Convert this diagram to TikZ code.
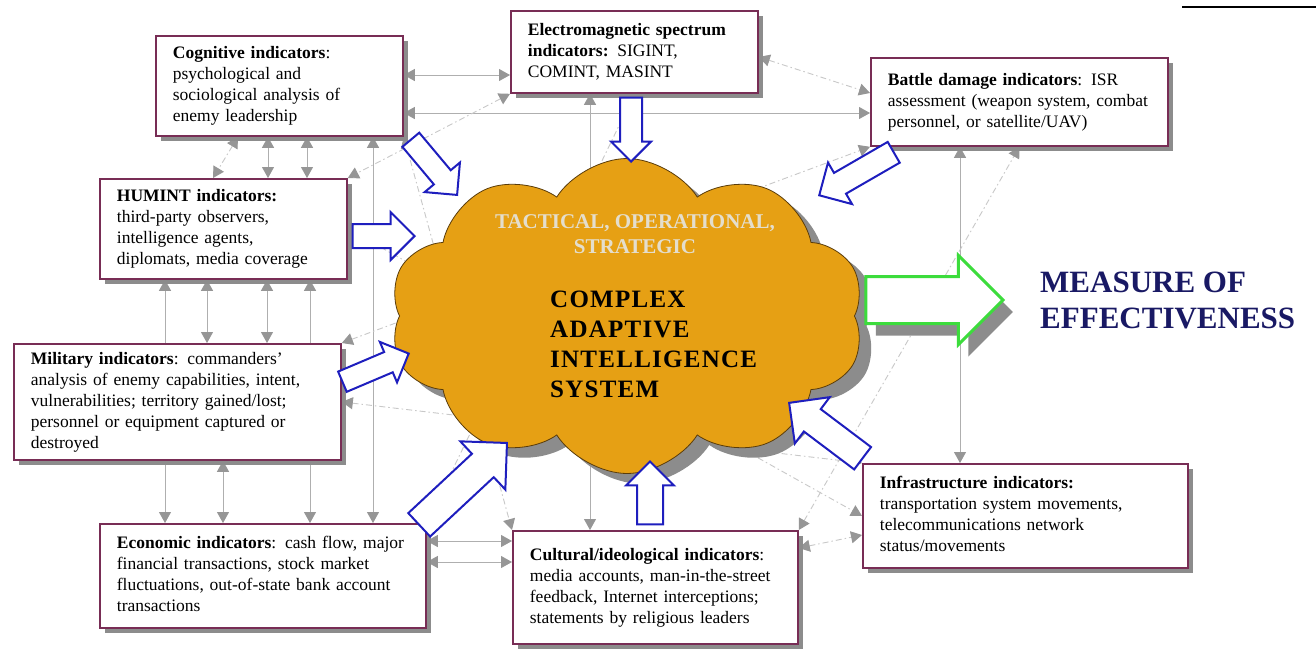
\documentclass[tikz,border=0pt]{standalone}
\usepackage{fontspec}
\setmainfont{Liberation Serif}
\usetikzlibrary{shapes.symbols,shapes.arrows,shadows,arrows.meta}
\pgfdeclarelayer{background}
\pgfsetlayers{background,main}

\definecolor{boxline}{RGB}{120,45,85}
\definecolor{boxshadow}{RGB}{140,140,140}
\definecolor{cloudorange}{RGB}{230,160,20}
\definecolor{cloudline}{RGB}{90,60,10}
\definecolor{arrowblue}{RGB}{30,30,190}
\definecolor{moegreen}{RGB}{60,220,60}
\definecolor{moenavy}{RGB}{25,25,100}
\definecolor{linkgray}{RGB}{175,175,175}
\definecolor{dotgray}{RGB}{200,200,200}
\definecolor{tipgray}{RGB}{150,150,150}
\definecolor{tacgray}{RGB}{228,222,205}

% lines of a box, never broken
\newcommand{\indlines}[1]{\noindent\begin{tabular}{@{}l@{}}#1\end{tabular}}

\tikzset{
  indbox/.style={draw=boxline, line width=1.8pt, fill=white, anchor=north west,
    inner xsep=17pt, inner ysep=0pt, align=left,
    font=\fontsize{17.5}{21}\selectfont,
    drop shadow={shadow xshift=5pt, shadow yshift=-5pt, fill=boxshadow, opacity=1}},
  inarrow/.style={single arrow, draw=arrowblue, line width=2pt, fill=white,
    inner xsep=0pt, anchor=tip, single arrow head indent=0pt},
  link/.style={draw=linkgray, line width=.9pt,
    >={Triangle[length=11pt,width=12pt,color=tipgray]}, <->},
  dotlink/.style={link, draw=dotgray, dash pattern=on 6pt off 3pt on 1.5pt off 3pt}
}

\begin{document}
\begin{tikzpicture}[x=1pt,y=-1pt]
\useasboundingbox (0,0) rectangle (1316,649);

% indicator boxes
\node[indbox, text width=213pt, minimum height=100pt] (cog) at (155,35)
  {\indlines{\textbf{Cognitive indicators}:\\ psychological and\\ sociological analysis of\\ enemy leadership}};
\node[indbox, text width=213pt, minimum height=82pt] (ems) at (510,10)
  {\indlines{\textbf{Electromagnetic spectrum}\\ \textbf{indicators:} SIGINT,\\ COMINT, MASINT}};
\node[indbox, text width=263pt, minimum height=88pt] (bat) at (870,57)
  {\indlines{\textbf{Battle damage indicators}: ISR\\ assessment (weapon system, combat\\ personnel, or satellite/UAV)}};
\node[indbox, text width=213pt, minimum height=100pt] (hum) at (99,178)
  {\indlines{\textbf{HUMINT indicators:}\\ third-party observers,\\ intelligence agents,\\ diplomats, media coverage}};
\node[indbox, text width=293pt, minimum height=116pt] (mil) at (13,343)
  {\indlines{\textbf{Military indicators}: commanders'\\ analysis of enemy capabilities, intent,\\ vulnerabilities; territory gained/lost;\\ personnel or equipment captured or\\ destroyed}};
\node[indbox, text width=292pt, minimum height=104pt] (eco) at (99,523)
  {\indlines{\textbf{Economic indicators}: cash flow, major\\ financial transactions, stock market\\ fluctuations, out-of-state bank account\\ transactions}};
\node[indbox, text width=251pt, minimum height=113pt] (cul) at (512,530)
  {\indlines{\textbf{Cultural/ideological indicators}:\\ media accounts, man-in-the-street\\ feedback, Internet interceptions;\\ statements by religious leaders}};
\node[indbox, text width=291pt, minimum height=104pt] (inf) at (862,463)
  {\indlines{\textbf{Infrastructure indicators:}\\ transportation system movements,\\ telecommunications network\\ status/movements}};

% the cloud
\node[cloud, cloud puffs=10, cloud puff arc=115, aspect=1.5, fill=cloudorange, draw=cloudline,
  line width=.8pt, minimum width=475pt, minimum height=315pt,
  drop shadow={shadow xshift=12pt, shadow yshift=-10pt, fill=boxshadow, opacity=1}] (cais) at (627,316) {};
\node[font=\fontsize{21}{25}\selectfont\bfseries, text=tacgray, align=center] (tac) at (635,234)
  {TACTICAL, OPERATIONAL,\\ STRATEGIC};
\node[font=\fontsize{25}{30}\selectfont\bfseries\addfontfeature{LetterSpace=5}, align=left,
  anchor=west, inner sep=0pt] (caistext) at (550,344)
  {COMPLEX\\ ADAPTIVE\\ INTELLIGENCE\\ SYSTEM};

% block arrows into the cloud
\node[inarrow, rotate=-50, minimum height=72pt, inner ysep=10pt, single arrow head extend=12pt] (acog) at (458,196) {};
\node[inarrow, rotate=-90, minimum height=64pt, inner ysep=10pt, single arrow head extend=9pt] (aems) at (631,163) {};
\node[inarrow, rotate=210, minimum height=86pt, inner ysep=11pt, single arrow head extend=12pt] (abat) at (818,196) {};
\node[inarrow, rotate=0, minimum height=62pt, inner ysep=11pt, single arrow head extend=12pt] (ahum) at (416,236) {};
\node[inarrow, rotate=23, minimum height=72pt, inner ysep=10pt, single arrow head extend=11pt] (amil) at (410,353) {};
\node[inarrow, rotate=43, minimum height=120pt, inner ysep=15pt, single arrow head extend=17pt] (aeco) at (508,442) {};
\node[inarrow, rotate=90, minimum height=63pt, inner ysep=12pt, single arrow head extend=11pt] (acul) at (650,460) {};
\node[inarrow, rotate=143, minimum height=92pt, inner ysep=13pt, single arrow head extend=15pt] (ainf) at (788,402) {};

% result
\node[single arrow, draw=moegreen, line width=3pt, fill=white, inner xsep=0pt, inner ysep=22pt, anchor=tip,
  minimum height=137pt, single arrow head extend=21pt, single arrow head indent=0pt,
  drop shadow={shadow xshift=10pt, shadow yshift=-12pt, fill=boxshadow, opacity=1}] (amoe) at (1005,300) {};
\node[font=\fontsize{31}{36}\selectfont\bfseries, text=moenavy, align=left, anchor=west,
  inner sep=0pt] (moe) at (1040,300) {MEASURE OF\\ EFFECTIVENESS};

\draw[line width=1.5pt] (1182,7) -- (1316,7);

% links between the indicators
\begin{pgfonlayer}{background}
  \fill[white] (0,0) rectangle (1316,649);
  \foreach \x/\a/\b in {268/cog/hum, 307/cog/hum, 165/hum/eco, 207/hum/mil, 267/hum/mil,
      310/hum/eco, 223/mil/eco, 373/cog/eco, 590/ems/cul, 960/bat/inf}
    \draw[link] (\a.south -| \x,0) -- (\b.north -| \x,0);
  \foreach \y/\a/\b in {75/cog/ems, 113/cog/bat, 541/eco/cul, 562/eco/cul}
    \draw[link] (\a.east |- 0,\y) -- (\b.west |- 0,\y);
  \draw[dotlink] (cog.south -| 238,0) -- (hum.north -| 213,0);
  \draw[dotlink] (ems.east |- 0,57) -- (bat.west |- 0,93);
  \draw[dotlink] (cul.east |- 0,548) -- (inf.west |- 0,535);
  \draw[dotlink] (ems.south west) -- (hum.north east);
  \draw[dotlink] (cog.south east) -- (cul.north west);
  \draw[dotlink] (hum.east) -- (inf.west);
  \draw[dotlink] (mil.north east) -- (bat.south west);
  \draw[dotlink] (eco.north east) -- (ems.south);
  \draw[dotlink] (cul.north east) -- (bat.south);
  \draw[dotlink] (mil.east) -- (inf.north west);
\end{pgfonlayer}
\end{tikzpicture}
\end{document}
